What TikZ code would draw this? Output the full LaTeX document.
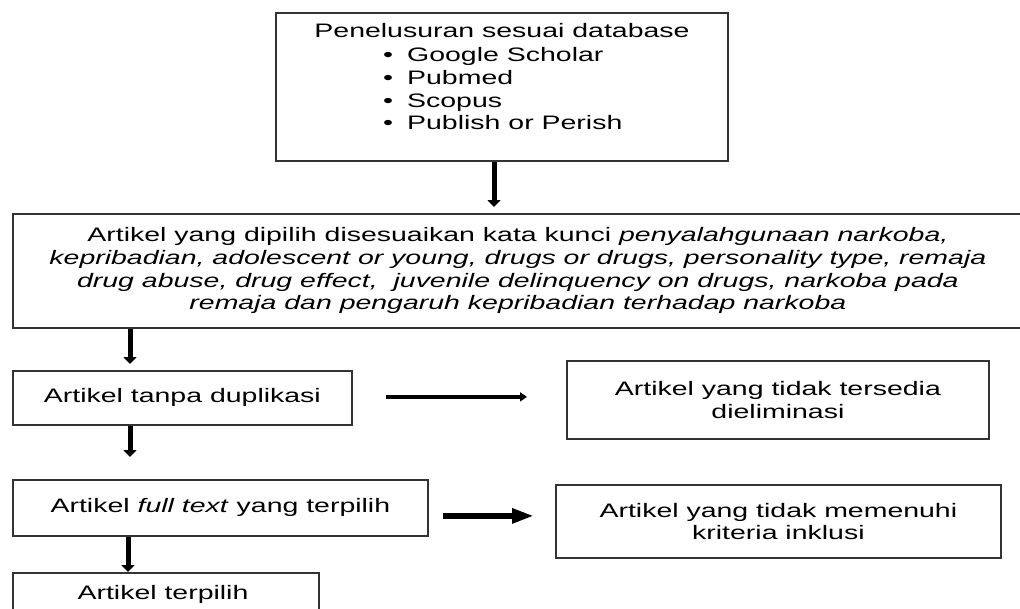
\documentclass[tikz,border=0pt]{standalone}
\usepackage{fontspec}
\setmainfont{Liberation Sans}[FakeStretch=1.46]
\usetikzlibrary{arrows.meta}
\tikzset{
  box/.style={draw=black!80, line width=1.8pt, anchor=north west, inner sep=0pt},
  lbl/.style={font=\fontsize{19.5}{22.7}\selectfont, align=center, inner sep=0pt},
  conn/.style={draw=black, line width=5pt, -{Triangle[width=13pt,length=7pt]}},
  thinconn/.style={draw=black, line width=3.5pt, -{Triangle[width=9pt,length=7pt]}},
  bigconn/.style={draw=black, line width=6pt, -{Triangle[width=14pt,length=22pt]}},
}
\begin{document}
\begin{tikzpicture}[x=1pt,y=-1pt]
\useasboundingbox (0,0) rectangle (1020,608);
\clip (0,0) rectangle (1020,608);

% top box
\node[box, minimum width=452pt, minimum height=148pt] (db) at (275,12) {};
\node[lbl, anchor=base] (dbt) at (502,37) {Penelusuran sesuai database};
\node[lbl, anchor=base west] (g1) at (383,61) {\makebox[24pt][l]{•}Google Scholar};
\node[lbl, anchor=base west] (g2) at (383,84) {\makebox[24pt][l]{•}Pubmed};
\node[lbl, anchor=base west] (g3) at (383,107) {\makebox[24pt][l]{•}Scopus};
\node[lbl, anchor=base west] (g4) at (383,129) {\makebox[24pt][l]{•}Publish or Perish};

% keyword box
\node[box, lbl, minimum width=1010pt, minimum height=114pt] (kw) at (12,213) {Artikel yang dipilih disesuaikan kata kunci \textit{penyalahgunaan narkoba,}\\
\textit{kepribadian, adolescent or young, drugs or drugs, personality type, remaja}\\
\textit{drug abuse, drug effect,\ \ juvenile delinquency on drugs, narkoba pada}\\
\textit{remaja dan pengaruh kepribadian terhadap narkoba}};

% left column
\node[box, lbl, minimum width=339pt, minimum height=54pt] (dup) at (12,370) {Artikel tanpa duplikasi};
\node[box, lbl, minimum width=415pt, minimum height=56pt] (ft) at (12,479) {Artikel \textit{full text} yang terpilih};
\node[box, minimum width=306pt, minimum height=60pt] (sel) at (12,572) {};
\node[lbl, anchor=base] (selt) at (163,599) {Artikel terpilih};

% right column
\node[box, lbl, minimum width=422pt, minimum height=78pt] (elim) at (566,360) {Artikel yang tidak tersedia\\dieliminasi};
\node[box, lbl, minimum width=445pt, minimum height=73pt] (incl) at (555,484) {Artikel yang tidak memenuhi\\kriteria inklusi};

% connector x positions
\coordinate (xa) at (494,0);
\coordinate (xb) at (130,0);
\coordinate (xc) at (128,0);

\draw[conn, shorten >=6pt] (db.south -| xa) -- (kw.north -| xa);
\draw[conn, shorten >=6pt] (kw.south -| xb) -- (dup.north -| xb);
\draw[conn, shorten >=22pt] (dup.south -| xb) -- (ft.north -| xb);
\draw[conn, shorten >=0pt] (ft.south -| xc) -- (sel.north -| xc);
\draw[thinconn, shorten <=33pt, shorten >=39pt] ([yshift=1pt]dup.east) -- ([yshift=1pt]dup.east -| elim.west);
\draw[bigconn, shorten <=14pt, shorten >=21pt] ([yshift=-8pt]ft.east) -- ([yshift=-8pt]ft.east -| incl.west);
\end{tikzpicture}
\end{document}
